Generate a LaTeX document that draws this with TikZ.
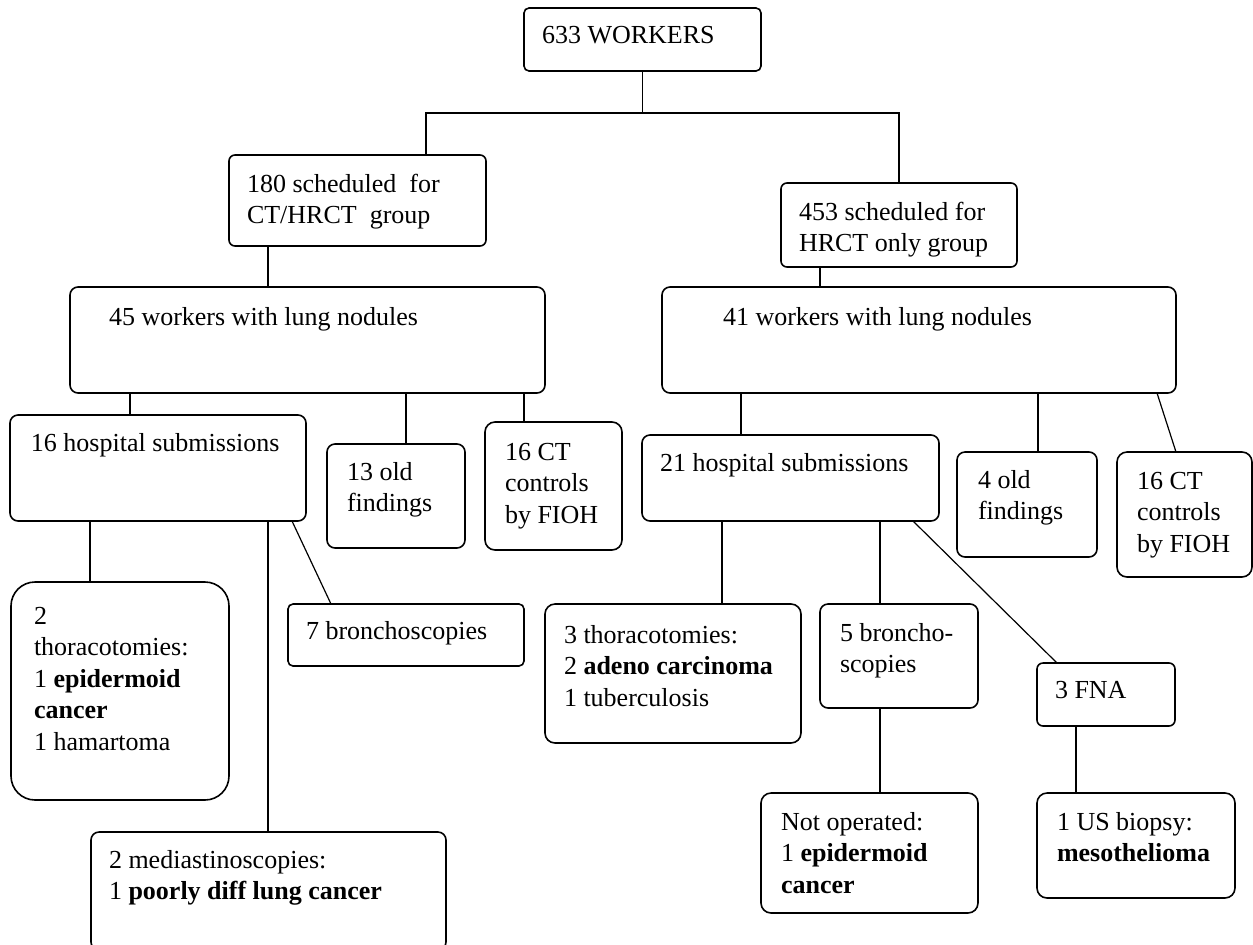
\documentclass[tikz,border=0pt]{standalone}
\usepackage{fontspec}
\setmainfont{Liberation Serif}
\usetikzlibrary{calc}
\tikzset{
  box/.style={draw=black, line width=0.8pt, inner sep=0pt, outer sep=0pt},
  txt/.style={anchor=base west, inner sep=0pt, outer sep=0pt, font=\fontsize{13}{15.75}\selectfont},
  con/.style={draw=black, line width=0.6pt},
}
\newcommand\bx[6]{\node[box, rounded corners=#6pt, minimum width=#4pt, minimum height=#5pt] (#1) at (#2,#3) {};}
\newcommand\tx[4]{\node[txt] (#1) at (#2,#3) {\begin{tabular}[t]{@{}l@{}}#4\end{tabular}};}
\newcommand\vcon[3]{\coordinate (vc) at (#1,0); \draw[con] (vc |- #2.south) -- (vc |- #3.north);}
\newcommand\scon[4]{\coordinate (sa) at (#1,0); \coordinate (sb) at (#3,0); \draw[con] (sa |- #2.south) -- (sb |- #4.north);}
\begin{document}
\begin{tikzpicture}[x=0.5pt, y=-0.5pt]
\clip (0,0) rectangle (1253,944);
\fill[white] (0,0) rectangle (1253,944);
% boxes
\bx{w633}{642.5}{39.5}{118.5}{31.5}{2.5}
\bx{s180}{357.5}{200.5}{128.5}{45.5}{3}
\bx{s453}{899}{225}{118}{42}{3}
\bx{n45}{307.5}{340}{237.5}{53}{4}
\bx{n41}{919}{340}{257}{53}{4}
\bx{h16}{158}{468}{148}{53}{4}
\bx{o13}{396}{496}{69}{52}{4}
\bx{c16L}{553.5}{486}{68.5}{64}{5}
\bx{h21}{790.5}{478}{148.5}{43}{4}
\bx{o4}{1027}{504.5}{70}{52.5}{4}
\bx{c16R}{1184.5}{514.5}{67.5}{62.5}{5}
\bx{t2}{120}{691}{109}{109}{12}
\bx{b7}{406}{635}{118}{31}{2.5}
\bx{m2}{268.5}{891}{177.5}{59}{4}
\bx{t3}{673}{673.5}{128}{69.5}{5}
\bx{b5}{899}{656}{79}{52}{4}
\bx{fna}{1106}{694.5}{69}{31.5}{3}
\bx{no}{869.5}{853}{108.5}{60}{5}
\bx{us}{1136}{845.5}{99}{52.5}{5}
% texts
\tx{t633}{542}{43}{633 WORKERS}
\tx{t180}{247}{192}{180 scheduled\ \ for\\CT/HRCT\ \ group}
\tx{t453}{799}{220}{453 scheduled for\\HRCT only group}
\tx{t45}{109}{325}{45 workers with lung nodules}
\tx{t41}{723}{325}{41 workers with lung nodules}
\tx{th16}{31}{451}{16 hospital submissions}
\tx{to13}{347}{480}{13 old\\findings}
\tx{tc16L}{505}{460}{16 CT\\controls\\by FIOH}
\tx{th21}{660}{471}{21 hospital submissions}
\tx{to4}{978}{488}{4 old\\findings}
\tx{tc16R}{1137}{489}{16 CT\\controls\\by FIOH}
\tx{tt2}{34}{624}{2\\thoracotomies:\\1 \textbf{epidermoid}\\\textbf{cancer}\\1 hamartoma}
\tx{tb7}{306}{639}{7 bronchoscopies}
\tx{tm2}{109}{868}{2 mediastinoscopies:\\1 \textbf{poorly diff lung cancer}}
\tx{tt3}{564}{643}{3 thoracotomies:\\2 \textbf{adeno carcinoma}\\1 tuberculosis}
\tx{tb5}{840}{641}{5 broncho-\\scopies}
\tx{tfna}{1055}{698}{3 FNA}
\tx{tno}{781}{830}{Not operated:\\1 \textbf{epidermoid}\\\textbf{cancer}}
\tx{tus}{1057}{830}{1 US biopsy:\\\textbf{mesothelioma}}
% connectors
\coordinate (j1) at (426,113);
\coordinate (j2) at (899,113);
\draw[con] (w633.south) -- (w633.south |- j1);
\draw[con] (j1 |- s180.north) -- (j1) -- (j2) -- (j2 |- s453.north);
\vcon{268}{s180}{n45}
\vcon{820}{s453}{n41}
\vcon{130}{n45}{h16}
\vcon{406}{n45}{o13}
\vcon{524}{n45}{c16L}
\vcon{741}{n41}{h21}
\vcon{1038}{n41}{o4}
\scon{1157}{n41}{1176}{c16R}
\vcon{90}{h16}{t2}
\vcon{268}{h16}{m2}
\scon{292}{h16}{331}{b7}
\vcon{722}{h21}{t3}
\vcon{880}{h21}{b5}
\scon{913}{h21}{1057}{fna}
\vcon{880}{b5}{no}
\vcon{1076}{fna}{us}
\end{tikzpicture}
\end{document}
